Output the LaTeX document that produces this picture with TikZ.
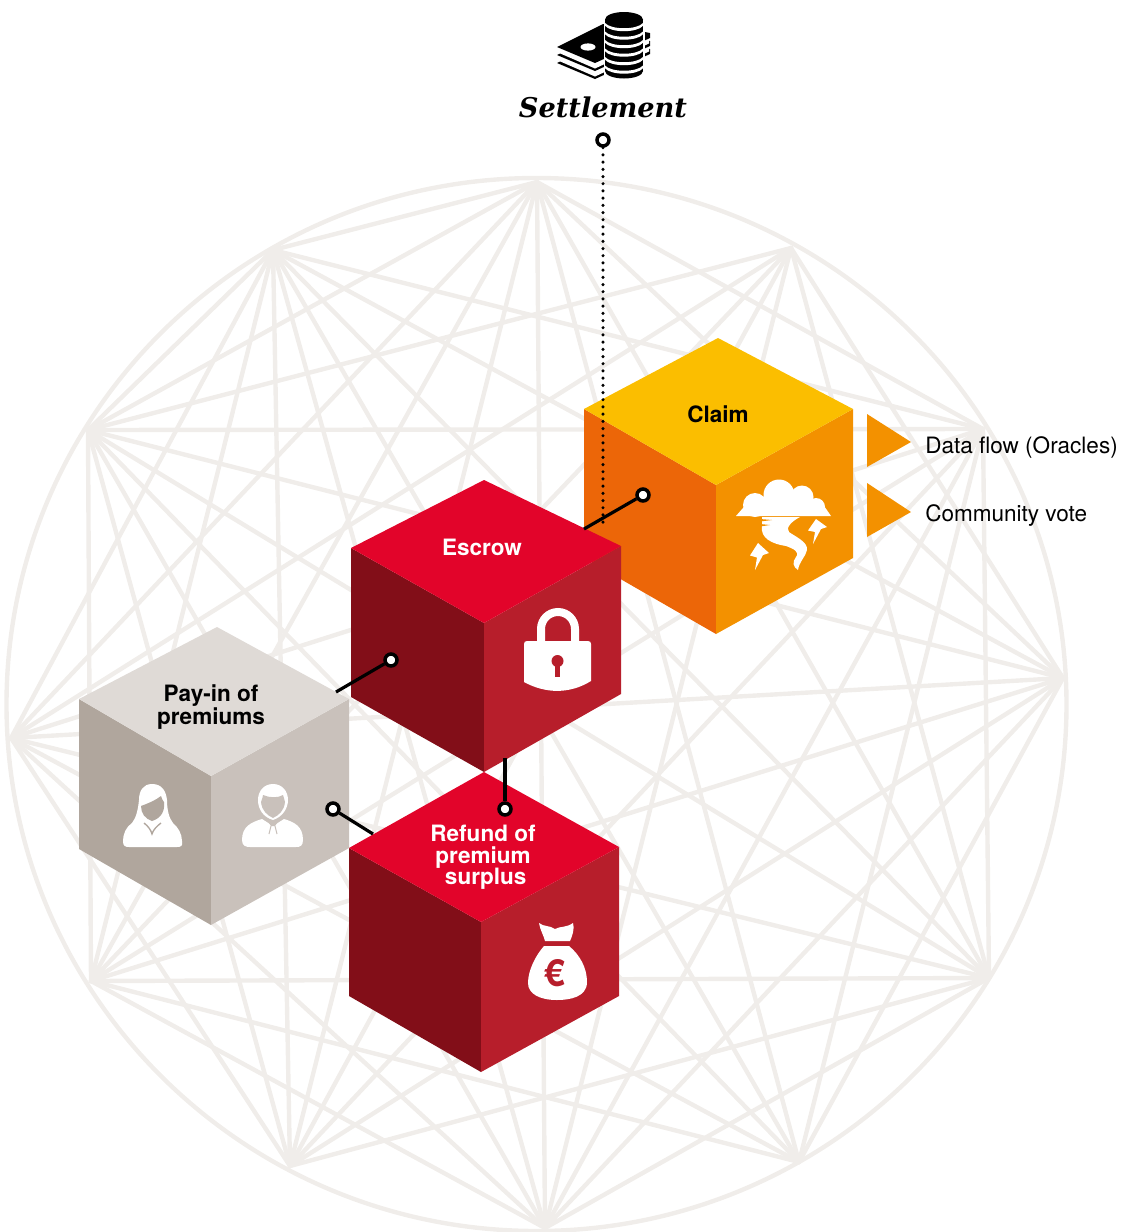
\documentclass[tikz,border=0pt]{standalone}
\usepackage{fontspec}
\setmainfont{TeX Gyre Heros}
\newfontfamily\settlefont{DejaVu Serif}
\definecolor{bgline}{HTML}{F0EDEA}
\definecolor{redtop}{HTML}{E2042A}
\definecolor{redleft}{HTML}{820E18}
\definecolor{redright}{HTML}{B71E2B}
\definecolor{yeltop}{HTML}{FBBE00}
\definecolor{orleft}{HTML}{EC6608}
\definecolor{orright}{HTML}{F39100}
\definecolor{gtop}{HTML}{DFDAD6}
\definecolor{gleft}{HTML}{B0A69D}
\definecolor{gright}{HTML}{C9C1BB}
\tikzset{
 bg/.style={draw=bgline,line width=3.3pt,line cap=round,line join=round},
 label/.style={font=\bfseries\fontsize{16.9}{16.1}\selectfont,align=center,inner sep=0pt},
 side/.style={font=\fontsize{16.9}{18}\selectfont,anchor=base west,inner sep=0pt},
 conn/.style={draw=black,line width=2.4pt},
 dot/.style={circle,draw=black,fill=white,line width=2.6pt,minimum size=9pt,inner sep=0pt},
 ic/.style={fill=white,draw=none}
}
\begin{document}
\begin{tikzpicture}[x=0.75pt,y=-0.75pt]
\useasboundingbox (0,0) rectangle (1128,1232);
\foreach \n/\x/\y in {1/537/182,2/791/248,3/983/429,4/1063/678,5/989/978,6/799/1162,7/545/1228,8/290/1166,9/91/981,10/11/738,11/88/430,12/273/250}{
  \coordinate (p\n) at (\x,\y);
}
\foreach \a/\blist in {1/{3,4,5,6,7,8,9,10,11,12},2/{4,5,7,8,9,10,11},3/{5,6,7,8,9,10,11,12},4/{6,7,8,9,10,11,12},5/{7,8,9,10,11,12},6/{9,10,11,12},7/{9,10,11,12},8/{10,11,12},9/{11,12},10/{12},11/{12}}{
  \foreach \b in \blist {
    \draw[bg] (p\a) -- (p\b);
  }
}
\draw[bg] (536.5,704.5) ellipse (530 and 526.5);
% Claim cube
\fill[orleft] (584,409) -- (716,485) -- (716,634) -- (584,558) -- cycle;
\fill[orright] (716,485) -- (853,409) -- (853,558) -- (716,634) -- cycle;
\fill[yeltop] (718,338) -- (853,409) -- (716,485) -- (584,409) -- cycle;
% Escrow cube
\fill[redleft] (351,548) -- (484,623) -- (484,772) -- (351,697) -- cycle;
\fill[redright] (484,623) -- (621,546) -- (621,694) -- (484,772) -- cycle;
\fill[redtop] (484,480) -- (621,546) -- (484,623) -- (351,548) -- cycle;
% Payin cube
\fill[gleft] (79,699) -- (211,776) -- (211,925) -- (79,849) -- cycle;
\fill[gright] (211,776) -- (349,699) -- (349,848) -- (211,925) -- cycle;
\fill[gtop] (217,627) -- (349,699) -- (211,776) -- (79,699) -- cycle;
% Refund cube
\fill[redleft] (349,848) -- (481,922) -- (481,1072) -- (349,996) -- cycle;
\fill[redright] (481,922) -- (619,847) -- (619,996) -- (481,1072) -- cycle;
\fill[redtop] (484,772) -- (619,847) -- (481,922) -- (349,848) -- cycle;
% labels
\node[label] (claim) at (718,414) {Claim};
\node[label,text=white] (escrow) at (482,547) {Escrow};
\node[label] (payin) at (211,707.5) {Pay-in of\\premiums};
\node[label,text=white] (refund) at (483,857.5) {Refund of\\premium\\\hspace*{4pt}surplus};
% triangles
\fill[orright] (867,414) -- (911,442) -- (867,467) -- cycle;
\fill[orright] (867,483) -- (911,512) -- (867,537) -- cycle;
\node[side] (data) at (925,453.5) {Data flow (Oracles)};
\node[side] (vote) at (925,521) {Community vote};
% settlement text
\node[font=\settlefont\bfseries\itshape\fontsize{20.4}{24}\selectfont,inner sep=0pt] (settle) at (603,107) {Settlement};
% connectors
\node[dot] (d0) at (603,140) {};
\node[dot] (d1) at (643,495) {};
\node[dot] (d2) at (391,660) {};
\node[dot] (d3) at (505,809) {};
\node[dot] (d4) at (333,809) {};
\coordinate (e0) at (603,527);
\coordinate (e1) at (584,529);
\coordinate (e2) at (336,692);
\coordinate (e3) at (505,758);
\coordinate (e4) at (373,834);
\draw[line width=2.6pt,dash pattern=on 0pt off 5.4pt,line cap=round] (d0) -- (e0);
\draw[conn] (d1) -- (e1);
\draw[conn] (d2) -- (e2);
\draw[conn] (d3) -- (e3);
\draw[conn] (d4) -- (e4);
% settlement icon: bills
\foreach \d in {16,8}{
  \fill[black] (557,47+\d) -- (603,24+\d) -- (650,33+\d) -- (650,38+\d) -- (595,63+\d) -- cycle;
  \fill[white] (558,44.5+\d) -- (603,21.5+\d) -- (649,30.5+\d) -- (649,35.5+\d) -- (595,60.5+\d) -- cycle;
}
\fill[black] (557,47) -- (603,24) -- (650,33) -- (650,38) -- (595,63) -- cycle;
\fill[white] (588,47) ellipse (7.5 and 3.6);
% settlement icon: coins
\fill[white] (603.5,20) rectangle (644.5,76);
\fill[black] (605,19) rectangle (643,71);
\fill[black] (624,71) ellipse (19 and 7.5);
\foreach \t in {23,31.5,40,48.5,57,65.5}{
  \fill[white] (605,\t) .. controls (611,\t+7) and (637,\t+7) .. (643,\t) -- (643,\t+2.8) .. controls (637,\t+10) and (611,\t+10) .. (605,\t+2.8) -- cycle;
}
\fill[black] (624,19.5) ellipse (19 and 7.5);
% storm icon
\fill[ic] (755,505) circle (12);
\fill[ic] (779,495) circle (15.5);
\fill[ic] (802,497) circle (11.5);
\fill[ic] (816,507) circle (9);
\fill[ic] (736,516) -- (831,516) -- (822,503) -- (750,500) -- cycle;
\fill[ic] (762,517) -- (800,517) .. controls (792,521) and (785,528) .. (789,532) .. controls (796,537) and (808,542) .. (807,550) .. controls (806,556) and (799,562) .. (798,570) .. controls (793,567) and (792,562) .. (796,557) .. controls (800,552) and (794,549) .. (786,546) .. controls (772,544) and (760,538) .. (762,526) -- cycle;
\fill[orright] (760,519) -- (772,520) -- (760,521.5) -- cycle;
\fill[orright] (760,524) -- (770,525) -- (760,526.5) -- cycle;
\fill[ic] (816,519) -- (827,527) -- (821,529) -- (813,544) -- (815,532) -- (808,530.5) -- cycle;
\fill[ic] (758,543) -- (769,553) -- (763,555) -- (755,570) -- (757,557.5) -- (750,555.5) -- cycle;
% lock icon
\draw[white,line width=6pt] (541,645) -- (541,629) .. controls (541,619.6) and (548.6,612) .. (558,612) .. controls (567.4,612) and (575,619.6) .. (575,629) -- (575,645);
\fill[ic] (527,641) -- (588,641) .. controls (590,641) and (591,642) .. (591,644) -- (591,681) .. controls (570,694) and (546,694) .. (524,682) -- (524,644) .. controls (524,642) and (525,641) .. (527,641) -- cycle;
\fill[redright] (557.5,661) circle (6);
\fill[redright] (555,661) rectangle (560,677);
% money bag
\fill[ic] (539,923) .. controls (544,927) and (549,925) .. (555,929) .. controls (560,926) and (566,928) .. (573,923) .. controls (575,928) and (572,937) .. (570,941) -- (545,941) .. controls (544,936) and (540,930) .. (539,923) -- cycle;
\fill[ic] (544,946) -- (569,946) .. controls (580,955) and (587,968) .. (587,982) .. controls (587,997) and (570,1000) .. (557,1000) .. controls (540,1000) and (528,994) .. (528,983) .. controls (528,970) and (536,955) .. (544,946) -- cycle;
\node[font=\bfseries\fontsize{28}{28}\selectfont,text=redright,inner sep=0pt] (euro) at (555,973) {€};
% woman
\fill[ic] (152,784) .. controls (143,784) and (139,791) .. (139,800) .. controls (138,810) and (136,818) .. (132,823) .. controls (126,827) and (123,834) .. (123,841) .. controls (123,846) and (125,847) .. (129,847) -- (177,847) .. controls (181,847) and (183,846) .. (182,841) .. controls (182,834) and (178,827) .. (173,823) .. controls (169,818) and (167,810) .. (167,800) .. controls (166,791) and (162,784) .. (152,784) -- cycle;
\fill[gleft] (141,806) .. controls (149,803) and (156,800) .. (161,796) .. controls (162,799) and (163,801) .. (164,802) .. controls (165,810) and (162,818) .. (152,821) .. controls (145,819) and (141,813) .. (141,806) -- cycle;
\draw[gleft,line width=1pt] (144,823) .. controls (148,826) and (151,830) .. (152,834) .. controls (153,830) and (157,826) .. (161,823);
% man
\fill[ic] (273,784) .. controls (264,784) and (258,791) .. (258,800) .. controls (258,809) and (263,817) .. (273,820) .. controls (282,817) and (288,809) .. (288,800) .. controls (288,791) and (282,784) .. (273,784) -- cycle;
\fill[gright] (261,802) .. controls (262,799) and (263,797) .. (263,795) .. controls (270,798) and (278,798) .. (283,795) .. controls (283,797) and (285,799) .. (285,802) .. controls (284,811) and (279,815) .. (273,818) .. controls (267,815) and (262,811) .. (261,802) -- cycle;
\fill[ic] (262,819) .. controls (252,822) and (242,826) .. (242,840) .. controls (242,846) and (246,847) .. (250,847) -- (296,847) .. controls (300,847) and (303,846) .. (303,840) .. controls (303,826) and (294,822) .. (284,819) -- (273,826) -- cycle;
\fill[gright] (269,823) -- (277,823) -- (275,826) -- (271,826) -- cycle;
\draw[gright,line width=.8pt] (271,826) -- (269,834) (275,826) -- (277,834);
\end{tikzpicture}
\end{document}
